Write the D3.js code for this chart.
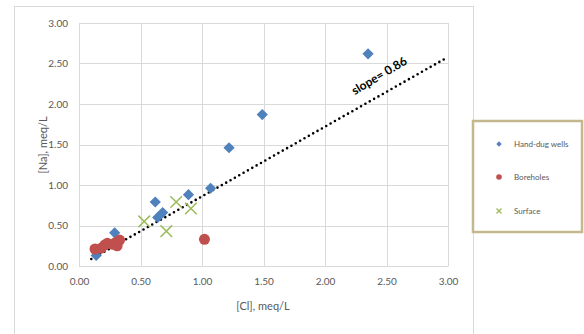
<!DOCTYPE html>
<html>
<head>
<meta charset="utf-8">
<script src="https://cdn.jsdelivr.net/npm/d3@7"></script>
<style>
  body { margin: 0; background: #fff; }
  text { font-family: Lato, "Open Sans", sans-serif; }
</style>
</head>
<body>
<div id="chart"></div>
<script>
// chart values
var handDugWells = [[0.14, 0.13], [0.29, 0.41], [0.62, 0.79], [0.64, 0.60], [0.68, 0.66],
                    [0.89, 0.88], [1.07, 0.96], [1.22, 1.46], [1.49, 1.87], [2.35, 2.62]];
var boreholes = [[0.13, 0.21], [0.18, 0.22], [0.21, 0.26], [0.23, 0.28], [0.27, 0.27],
                 [0.30, 0.29], [0.31, 0.25], [0.33, 0.32], [1.02, 0.33]];
var surface = [[0.53, 0.55], [0.71, 0.43], [0.79, 0.79], [0.91, 0.71]];
var xTicks = [0, 0.5, 1, 1.5, 2, 2.5, 3];
var yTicks = [0, 0.5, 1, 1.5, 2, 2.5, 3];
var trendSlope = 0.86;
var trendX = [0.1, 3.0];
var seriesNames = ["Hand-dug wells", "Boreholes", "Surface"];

var width = 584, height = 334;
var margin = {top: 23, right: 136, bottom: 68, left: 79};
var w = width - margin.left - margin.right,
    h = height - margin.top - margin.bottom;

var svg = d3.select("#chart").append("svg")
    .attr("width", width)
    .attr("height", height);

// outer chart frame (runs off the bottom of the picture)
svg.append("rect")
    .attr("x", 14.5).attr("y", 6.5)
    .attr("width", 459).attr("height", 340)
    .attr("fill", "none").attr("stroke", "#d9d9d9");

var g = svg.append("g")
    .attr("transform", "translate(" + margin.left + "," + margin.top + ")");

var x = d3.scaleLinear().domain([0, 3]).range([0, w]);
var y = d3.scaleLinear().domain([0, 3]).range([h, 0]);

// grid
g.append("g").selectAll("line").data(xTicks).enter().append("line")
    .attr("x1", function(d) { return Math.round(x(d)) + 0.5; })
    .attr("x2", function(d) { return Math.round(x(d)) + 0.5; })
    .attr("y1", 0).attr("y2", h)
    .attr("stroke", "#d9d9d9");
g.append("g").selectAll("line").data(yTicks).enter().append("line")
    .attr("y1", function(d) { return Math.round(y(d)) + 0.5; })
    .attr("y2", function(d) { return Math.round(y(d)) + 0.5; })
    .attr("x1", 0).attr("x2", w)
    .attr("stroke", "#d9d9d9");

// axes
var xAxis = g.append("g")
    .attr("transform", "translate(0," + h + ")")
    .call(d3.axisBottom(x).tickValues(xTicks).tickFormat(d3.format(".2f")).tickSize(0).tickPadding(12));
var yAxis = g.append("g")
    .call(d3.axisLeft(y).tickValues(yTicks).tickFormat(d3.format(".2f")).tickSize(0).tickPadding(11));
[xAxis, yAxis].forEach(function(a) {
  a.select(".domain").attr("stroke", "#d9d9d9");
  a.selectAll("text").attr("fill", "#595959").style("font-size", "10px")
      .style("font-family", "Lato, sans-serif");
});

// axis titles
svg.append("text")
    .attr("x", 263).attr("y", 310)
    .attr("text-anchor", "middle")
    .attr("fill", "#595959").style("font-size", "11px")
    .text("[Cl], meq/L");
svg.append("text")
    .attr("transform", "translate(47,145) rotate(-90)")
    .attr("text-anchor", "middle")
    .attr("fill", "#595959").style("font-size", "11px")
    .text("[Na], meq/L");

// trend line
g.append("line")
    .attr("x1", x(trendX[0])).attr("y1", y(trendSlope * trendX[0]))
    .attr("x2", x(trendX[1])).attr("y2", y(trendSlope * trendX[1]))
    .attr("stroke", "#000").attr("stroke-width", 2.6)
    .attr("stroke-linecap", "round").attr("stroke-dasharray", "0,5");

// markers
var diamond = d3.symbol().type(d3.symbolDiamond2).size(80);
var cross = d3.symbol().type(d3.symbolX).size(90);

g.append("g").selectAll("path").data(handDugWells).enter().append("path")
    .attr("d", diamond)
    .attr("transform", function(d) { return "translate(" + x(d[0]) + "," + y(d[1]) + ")"; })
    .attr("fill", "#4f81bd");

g.append("g").selectAll("circle").data(boreholes).enter().append("circle")
    .attr("cx", function(d) { return x(d[0]); })
    .attr("cy", function(d) { return y(d[1]); })
    .attr("r", 5.5)
    .attr("fill", "#c0504d");

g.append("g").selectAll("path").data(surface).enter().append("path")
    .attr("d", cross)
    .attr("transform", function(d) { return "translate(" + x(d[0]) + "," + y(d[1]) + ")"; })
    .attr("fill", "none").attr("stroke", "#9bbb59").attr("stroke-width", 1.5);

// trend label
var midX = 2.45;
svg.append("text")
    .attr("transform", "translate(" + (margin.left + x(midX) + 1) + "," + (margin.top + y(trendSlope * midX) - 16) + ") rotate(-31)")
    .attr("text-anchor", "middle")
    .style("font-size", "12px").style("font-weight", "bold")
    .attr("fill", "#000")
    .text("slope= " + trendSlope.toFixed(2));

// legend
var legend = svg.append("g");
legend.append("rect")
    .attr("x", 473).attr("y", 121)
    .attr("width", 109).attr("height", 111)
    .attr("fill", "#fff").attr("stroke", "#c4b98e").attr("stroke-width", 2.5);

var legendY = [144, 177, 211];
var items = legend.selectAll("g.item").data(seriesNames).enter().append("g")
    .attr("class", "item")
    .attr("transform", function(d, i) { return "translate(499," + legendY[i] + ")"; });
items.each(function(d, i) {
  var it = d3.select(this);
  if (i === 0) it.append("path").attr("d", d3.symbol().type(d3.symbolDiamond2).size(18)).attr("fill", "#4f81bd");
  if (i === 1) it.append("circle").attr("r", 2.8).attr("fill", "#c0504d");
  if (i === 2) it.append("path").attr("d", d3.symbol().type(d3.symbolX).size(18))
      .attr("fill", "none").attr("stroke", "#9bbb59").attr("stroke-width", 1.3);
});
items.append("text")
    .attr("x", 15).attr("dy", "0.35em")
    .attr("fill", "#595959").style("font-size", "8px")
    .text(function(d) { return d; });
</script>
</body>
</html>
